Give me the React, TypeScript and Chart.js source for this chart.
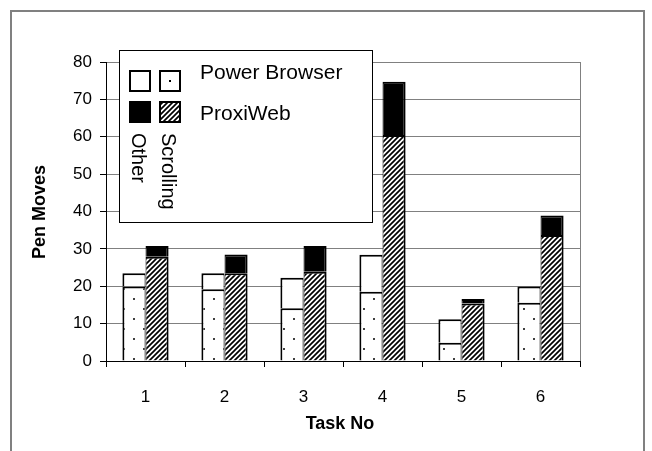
import React, { useEffect, useRef } from 'react';
import { Chart, registerables } from 'chart.js';

Chart.register(...registerables);

const categories = ['1', '2', '3', '4', '5', '6'];
const pbScrolling = [19.9, 19.2, 14.1, 18.5, 4.9, 15.6];
const pbOther = [3.6, 4.3, 8.2, 9.9, 6.3, 4.3];
const pwScrolling = [27.9, 23.5, 23.9, 60.5, 15.4, 33.7];
const pwOther = [2.9, 5.0, 6.9, 14.2, 1.2, 5.2];
const seriesNames = ['Power Browser', 'ProxiWeb'];
const partNames = ['Other', 'Scrolling'];
const yTitle = 'Pen Moves';
const xTitle = 'Task No';

const FONT = "'Liberation Sans', Arial, sans-serif";

function makeDotTile(): HTMLCanvasElement {
  const c = document.createElement('canvas');
  c.width = 20;
  c.height = 20;
  const g = c.getContext('2d')!;
  g.fillStyle = '#ffffff';
  g.fillRect(0, 0, 20, 20);
  g.fillStyle = '#404040';
  g.fillRect(3, 8, 2, 2);
  g.fillRect(13, 18, 2, 2);
  return c;
}

function makeHatchTile(): HTMLCanvasElement {
  const s = 5;
  const c = document.createElement('canvas');
  c.width = s;
  c.height = s;
  const g = c.getContext('2d')!;
  g.fillStyle = '#ffffff';
  g.fillRect(0, 0, s, s);
  g.strokeStyle = '#000000';
  g.lineWidth = 1.7;
  g.beginPath();
  g.moveTo(0, s);
  g.lineTo(s, 0);
  g.moveTo(-1, 1);
  g.lineTo(1, -1);
  g.moveTo(s - 1, s + 1);
  g.lineTo(s + 1, s - 1);
  g.stroke();
  return c;
}

export default function App() {
  const ref = useRef<HTMLCanvasElement | null>(null);

  useEffect(() => {
    const canvas = ref.current!;
    const ctx = canvas.getContext('2d')!;
    const dots = ctx.createPattern(makeDotTile(), 'repeat')!;
    const hatch = ctx.createPattern(makeHatchTile(), 'repeat')!;

    const extras = {
      id: 'extras',
      afterDraw(chart: any) {
        const c = chart.ctx as CanvasRenderingContext2D;
        const area = chart.chartArea;
        c.save();
        // outer frame
        c.strokeStyle = '#808080';
        c.lineWidth = 2;
        c.strokeRect(11, 11, 633, 460);
        // plot area right border
        c.strokeStyle = '#808080';
        c.lineWidth = 1;
        c.beginPath();
        c.moveTo(Math.round(area.right) + 0.5, area.top);
        c.lineTo(Math.round(area.right) + 0.5, area.bottom);
        c.stroke();

        // legend box
        const lx = 119.5, ly = 50.5, lw = 253, lh = 172;
        c.fillStyle = '#ffffff';
        c.fillRect(lx, ly, lw, lh);
        c.strokeStyle = '#000000';
        c.lineWidth = 1;
        c.strokeRect(lx, ly, lw, lh);

        const sw = 20;
        const swatch = (x: number, y: number, fill: any) => {
          c.fillStyle = fill;
          c.fillRect(x, y, sw, sw);
          c.strokeStyle = '#000';
          c.lineWidth = 2;
          c.strokeRect(x, y, sw, sw);
        };
        swatch(130, 71, '#ffffff');
        // dotted swatch with single dot
        c.fillStyle = '#ffffff';
        c.fillRect(160, 71, sw, sw);
        c.fillStyle = '#000';
        c.fillRect(169, 80, 2, 2);
        c.strokeStyle = '#000';
        c.lineWidth = 2;
        c.strokeRect(160, 71, sw, sw);
        swatch(130, 102, '#000000');
        swatch(160, 102, hatch);

        c.fillStyle = '#000';
        c.font = `21px ${FONT}`;
        c.textAlign = 'left';
        c.textBaseline = 'alphabetic';
        c.fillText(seriesNames[0], 200, 79);
        c.fillText(seriesNames[1], 200, 120);

        c.font = `20px ${FONT}`;
        c.save();
        c.translate(132, 133);
        c.rotate(Math.PI / 2);
        c.fillText(partNames[0], 0, 0);
        c.restore();
        c.save();
        c.translate(162, 133);
        c.rotate(Math.PI / 2);
        c.fillText(partNames[1], 0, 0);
        c.restore();

        // axis titles
        c.font = `bold 18px ${FONT}`;
        c.textAlign = 'center';
        c.textBaseline = 'middle';
        c.fillText(xTitle, 340, 424);
        c.save();
        c.translate(40, 212);
        c.rotate(-Math.PI / 2);
        c.fillText(yTitle, 0, 0);
        c.restore();
        c.restore();
      },
    };

    const common = {
      borderColor: '#000000',
      borderSkipped: 'start',
      categoryPercentage: 0.585,
      barPercentage: 1.0,
    };
    const leftBorder = { top: 2, left: 2, right: 1, bottom: 0 };
    const rightBorder = { top: 2, left: 1, right: 2, bottom: 0 };

    const chart = new Chart(canvas, {
      type: 'bar',
      data: {
        labels: categories,
        datasets: [
          { ...common, label: 'PB Scrolling', data: pbScrolling, stack: 'pb', backgroundColor: dots, borderWidth: leftBorder },
          { ...common, label: 'PB Other', data: pbOther, stack: 'pb', backgroundColor: '#ffffff', borderWidth: leftBorder },
          { ...common, label: 'PW Scrolling', data: pwScrolling, stack: 'pw', backgroundColor: hatch, borderWidth: rightBorder },
          { ...common, label: 'PW Other', data: pwOther, stack: 'pw', backgroundColor: '#000000', borderWidth: rightBorder },
        ] as any,
      },
      options: {
        responsive: false,
        animation: false,
        layout: { padding: { left: 0, top: 62, right: 72, bottom: 0 } },
        plugins: { legend: { display: false }, tooltip: { enabled: false } },
        scales: {
          x: {
            stacked: true,
            afterFit: (s: any) => { s.height = 90; },
            grid: { offset: true, drawOnChartArea: false, drawTicks: true, tickLength: 6, tickColor: '#000', color: '#000' },
            border: { color: '#000', width: 1 },
            ticks: { color: '#000', font: { family: FONT, size: 17 }, padding: 20 },
          },
          y: {
            stacked: true,
            min: 0,
            max: 80,
            afterFit: (s: any) => { s.width = 106; },
            grid: { color: '#808080', tickColor: '#000', tickLength: 6, lineWidth: 1 },
            border: { color: '#000', width: 1 },
            ticks: { stepSize: 10, color: '#000', font: { family: FONT, size: 17 }, padding: 8 },
          },
        },
      } as any,
      plugins: [extras],
    });
    return () => chart.destroy();
  }, []);

  return (
    <div style={{ position: 'absolute', left: 0, top: 0, width: 652, height: 451, background: '#fff' }}>
      <canvas ref={ref} width={652} height={451} style={{ display: 'block' }} />
    </div>
  );
}
